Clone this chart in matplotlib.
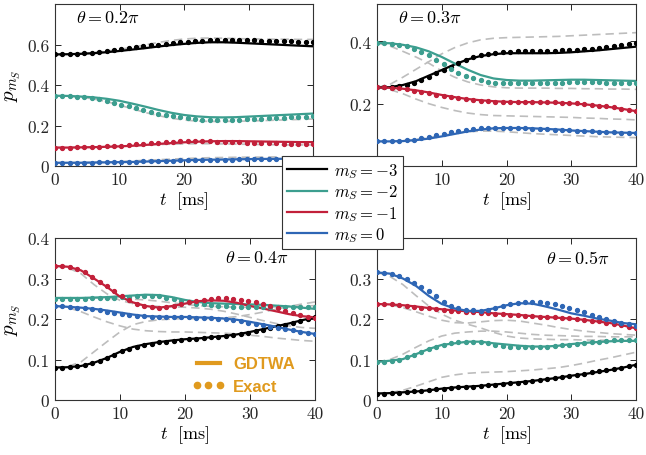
import numpy as np
import matplotlib
matplotlib.use("Agg")
import matplotlib.pyplot as plt
from matplotlib.lines import Line2D
from matplotlib.ticker import FuncFormatter

plt.rcParams['font.family'] = 'serif'
plt.rcParams['font.serif'] = ['cmr10', 'DejaVu Serif']
plt.rcParams['mathtext.fontset'] = 'cm'
plt.rcParams['axes.formatter.use_mathtext'] = True
plt.rcParams['axes.unicode_minus'] = False

# ---------------- data ----------------
t_line = np.arange(0, 41, 2)          # GDTWA and dashed curves
t_exact = np.linspace(0, 40, 36)      # exact (dots)
labels = [r'$m_S = -3$', r'$m_S = -2$', r'$m_S = -1$', r'$m_S = 0$']
colors = ['#000000', '#3C9E8F', '#C2203A', '#2E66B5']
thetas = [r'$\theta = 0.2\pi$', r'$\theta = 0.3\pi$', r'$\theta = 0.4\pi$', r'$\theta = 0.5\pi$']

# theta = 0.2 pi
gd_02 = [
    [0.551, 0.552, 0.554, 0.557, 0.562, 0.568, 0.575, 0.582, 0.590, 0.597, 0.603, 0.608, 0.611, 0.611, 0.609, 0.606, 0.603, 0.600, 0.597, 0.594, 0.591],
    [0.347, 0.346, 0.343, 0.339, 0.332, 0.322, 0.308, 0.293, 0.277, 0.263, 0.252, 0.245, 0.241, 0.240, 0.241, 0.244, 0.247, 0.250, 0.253, 0.256, 0.259],
    [0.091, 0.091, 0.092, 0.093, 0.095, 0.097, 0.100, 0.104, 0.109, 0.113, 0.117, 0.120, 0.122, 0.123, 0.123, 0.122, 0.121, 0.120, 0.119, 0.118, 0.118],
    [0.016, 0.016, 0.016, 0.017, 0.018, 0.019, 0.020, 0.022, 0.024, 0.026, 0.028, 0.030, 0.031, 0.032, 0.033, 0.034, 0.035, 0.035, 0.036, 0.037, 0.037],
]
ex_02 = [
    [0.551, 0.551, 0.552, 0.554, 0.556, 0.560, 0.565, 0.568, 0.573, 0.577, 0.582, 0.587, 0.591, 0.596, 0.600, 0.604, 0.608, 0.611, 0.614, 0.617, 0.619, 0.621, 0.622, 0.622, 0.622, 0.622, 0.621, 0.620, 0.619, 0.618, 0.617, 0.616, 0.615, 0.614, 0.613, 0.612],
    [0.347, 0.347, 0.345, 0.343, 0.340, 0.335, 0.329, 0.321, 0.312, 0.303, 0.294, 0.285, 0.276, 0.267, 0.259, 0.253, 0.248, 0.242, 0.236, 0.232, 0.229, 0.227, 0.227, 0.227, 0.228, 0.229, 0.230, 0.232, 0.233, 0.235, 0.236, 0.238, 0.240, 0.241, 0.243, 0.245],
    [0.091, 0.091, 0.091, 0.092, 0.093, 0.094, 0.095, 0.097, 0.099, 0.101, 0.104, 0.107, 0.110, 0.113, 0.116, 0.118, 0.120, 0.121, 0.122, 0.122, 0.122, 0.121, 0.120, 0.119, 0.118, 0.117, 0.116, 0.115, 0.114, 0.113, 0.112, 0.111, 0.110, 0.109, 0.108, 0.107],
    [0.016, 0.016, 0.016, 0.016, 0.017, 0.017, 0.018, 0.018, 0.019, 0.020, 0.021, 0.022, 0.023, 0.024, 0.025, 0.026, 0.027, 0.028, 0.029, 0.030, 0.030, 0.031, 0.031, 0.032, 0.032, 0.033, 0.033, 0.033, 0.034, 0.034, 0.034, 0.035, 0.035, 0.035, 0.036, 0.036],
]
dash_02 = [
    [0.551, 0.552, 0.555, 0.560, 0.567, 0.576, 0.586, 0.598, 0.610, 0.620, 0.627, 0.631, 0.632, 0.631, 0.629, 0.628, 0.627, 0.626, 0.626, 0.625, 0.625],
    [0.347, 0.345, 0.340, 0.331, 0.318, 0.301, 0.282, 0.264, 0.249, 0.236, 0.227, 0.222, 0.220, 0.220, 0.221, 0.222, 0.224, 0.226, 0.228, 0.230, 0.232],
    [0.091, 0.091, 0.092, 0.093, 0.095, 0.097, 0.100, 0.103, 0.106, 0.108, 0.109, 0.110, 0.110, 0.109, 0.108, 0.107, 0.106, 0.105, 0.104, 0.104, 0.104],
    [0.016, 0.016, 0.017, 0.018, 0.020, 0.022, 0.025, 0.028, 0.031, 0.034, 0.037, 0.039, 0.041, 0.042, 0.043, 0.044, 0.044, 0.045, 0.045, 0.045, 0.045],
]

# theta = 0.3 pi
gd_03 = [
    [0.252, 0.253, 0.260, 0.272, 0.290, 0.308, 0.326, 0.342, 0.353, 0.359, 0.362, 0.362, 0.362, 0.362, 0.363, 0.365, 0.368, 0.371, 0.375, 0.379, 0.383],
    [0.395, 0.394, 0.389, 0.381, 0.368, 0.350, 0.329, 0.309, 0.292, 0.281, 0.276, 0.274, 0.274, 0.275, 0.276, 0.277, 0.277, 0.276, 0.275, 0.274, 0.273],
    [0.252, 0.251, 0.248, 0.243, 0.236, 0.228, 0.221, 0.215, 0.211, 0.208, 0.206, 0.205, 0.205, 0.204, 0.203, 0.201, 0.198, 0.194, 0.189, 0.183, 0.176],
    [0.079, 0.079, 0.080, 0.083, 0.088, 0.095, 0.103, 0.111, 0.117, 0.121, 0.122, 0.122, 0.121, 0.119, 0.117, 0.114, 0.112, 0.110, 0.108, 0.107, 0.106],
]
ex_03 = [
    [0.252, 0.252, 0.254, 0.257, 0.261, 0.267, 0.275, 0.285, 0.297, 0.308, 0.319, 0.330, 0.340, 0.349, 0.356, 0.361, 0.364, 0.366, 0.367, 0.368, 0.368, 0.369, 0.369, 0.370, 0.370, 0.371, 0.372, 0.373, 0.375, 0.377, 0.380, 0.383, 0.386, 0.389, 0.392, 0.395],
    [0.395, 0.395, 0.393, 0.390, 0.385, 0.377, 0.367, 0.355, 0.340, 0.326, 0.312, 0.299, 0.289, 0.281, 0.275, 0.271, 0.268, 0.267, 0.266, 0.266, 0.266, 0.266, 0.267, 0.267, 0.268, 0.268, 0.269, 0.269, 0.269, 0.269, 0.269, 0.268, 0.268, 0.268, 0.268, 0.267],
    [0.252, 0.252, 0.251, 0.249, 0.246, 0.242, 0.238, 0.233, 0.229, 0.225, 0.221, 0.218, 0.215, 0.212, 0.210, 0.209, 0.207, 0.206, 0.206, 0.205, 0.205, 0.205, 0.205, 0.204, 0.204, 0.203, 0.202, 0.201, 0.199, 0.197, 0.194, 0.191, 0.188, 0.184, 0.180, 0.176],
    [0.079, 0.079, 0.079, 0.080, 0.082, 0.085, 0.089, 0.094, 0.099, 0.104, 0.109, 0.113, 0.117, 0.120, 0.122, 0.123, 0.123, 0.123, 0.122, 0.122, 0.121, 0.120, 0.119, 0.118, 0.117, 0.116, 0.114, 0.113, 0.112, 0.111, 0.110, 0.109, 0.108, 0.107, 0.107, 0.106],
]
dash_03 = [
    [0.252, 0.262, 0.285, 0.310, 0.335, 0.360, 0.380, 0.395, 0.405, 0.410, 0.412, 0.413, 0.414, 0.415, 0.416, 0.418, 0.420, 0.422, 0.424, 0.426, 0.428],
    [0.395, 0.385, 0.368, 0.350, 0.330, 0.305, 0.285, 0.270, 0.260, 0.254, 0.251, 0.250, 0.250, 0.250, 0.249, 0.249, 0.248, 0.248, 0.247, 0.247, 0.246],
    [0.252, 0.245, 0.232, 0.215, 0.200, 0.188, 0.178, 0.170, 0.165, 0.162, 0.161, 0.160, 0.159, 0.158, 0.157, 0.156, 0.154, 0.153, 0.151, 0.150, 0.148],
    [0.079, 0.079, 0.081, 0.085, 0.091, 0.098, 0.105, 0.110, 0.112, 0.112, 0.110, 0.107, 0.104, 0.102, 0.100, 0.098, 0.096, 0.094, 0.093, 0.092, 0.091],
]

# theta = 0.4 pi
gd_04 = [
    [0.080, 0.081, 0.084, 0.092, 0.104, 0.119, 0.131, 0.138, 0.143, 0.147, 0.150, 0.152, 0.155, 0.158, 0.162, 0.168, 0.175, 0.182, 0.189, 0.197, 0.204],
    [0.252, 0.252, 0.252, 0.253, 0.254, 0.256, 0.258, 0.260, 0.259, 0.254, 0.247, 0.242, 0.239, 0.238, 0.237, 0.236, 0.235, 0.233, 0.231, 0.228, 0.225],
    [0.331, 0.329, 0.320, 0.300, 0.279, 0.255, 0.241, 0.232, 0.228, 0.232, 0.238, 0.244, 0.246, 0.245, 0.240, 0.232, 0.226, 0.219, 0.212, 0.207, 0.204],
    [0.232, 0.230, 0.228, 0.225, 0.221, 0.216, 0.211, 0.207, 0.206, 0.205, 0.205, 0.204, 0.203, 0.201, 0.198, 0.193, 0.187, 0.181, 0.174, 0.168, 0.163],
]
ex_04 = [
    [0.080, 0.080, 0.081, 0.083, 0.086, 0.091, 0.097, 0.104, 0.112, 0.120, 0.127, 0.132, 0.136, 0.139, 0.142, 0.144, 0.146, 0.148, 0.150, 0.151, 0.153, 0.155, 0.156, 0.158, 0.160, 0.163, 0.166, 0.170, 0.174, 0.178, 0.182, 0.186, 0.190, 0.195, 0.199, 0.204],
    [0.250, 0.250, 0.250, 0.250, 0.250, 0.251, 0.251, 0.252, 0.253, 0.254, 0.255, 0.256, 0.257, 0.257, 0.256, 0.253, 0.249, 0.245, 0.241, 0.238, 0.236, 0.234, 0.232, 0.231, 0.230, 0.230, 0.230, 0.230, 0.230, 0.230, 0.230, 0.230, 0.230, 0.230, 0.229, 0.229],
    [0.331, 0.330, 0.328, 0.323, 0.315, 0.304, 0.292, 0.281, 0.270, 0.258, 0.247, 0.238, 0.232, 0.229, 0.228, 0.229, 0.233, 0.237, 0.241, 0.244, 0.247, 0.249, 0.251, 0.251, 0.250, 0.248, 0.245, 0.241, 0.236, 0.231, 0.226, 0.220, 0.215, 0.210, 0.206, 0.203],
    [0.232, 0.231, 0.230, 0.228, 0.226, 0.224, 0.221, 0.218, 0.215, 0.212, 0.210, 0.208, 0.207, 0.206, 0.205, 0.205, 0.205, 0.204, 0.204, 0.203, 0.203, 0.202, 0.201, 0.199, 0.197, 0.194, 0.191, 0.188, 0.185, 0.181, 0.178, 0.175, 0.172, 0.169, 0.166, 0.163],
]
dash_04 = [
    [0.080, 0.083, 0.094, 0.119, 0.144, 0.168, 0.186, 0.194, 0.198, 0.200, 0.201, 0.201, 0.201, 0.203, 0.206, 0.211, 0.217, 0.224, 0.231, 0.237, 0.242],
    [0.252, 0.252, 0.252, 0.252, 0.251, 0.250, 0.249, 0.247, 0.244, 0.240, 0.236, 0.233, 0.231, 0.230, 0.229, 0.229, 0.229, 0.230, 0.231, 0.232, 0.233],
    [0.331, 0.326, 0.312, 0.285, 0.262, 0.246, 0.238, 0.233, 0.231, 0.230, 0.229, 0.227, 0.224, 0.219, 0.212, 0.204, 0.196, 0.189, 0.183, 0.179, 0.177],
    [0.232, 0.228, 0.218, 0.205, 0.193, 0.183, 0.175, 0.171, 0.169, 0.168, 0.168, 0.167, 0.166, 0.165, 0.163, 0.160, 0.157, 0.153, 0.150, 0.147, 0.145],
]

# theta = 0.5 pi
gd_05 = [
    [0.016, 0.017, 0.019, 0.021, 0.024, 0.028, 0.031, 0.033, 0.035, 0.038, 0.041, 0.044, 0.047, 0.051, 0.055, 0.060, 0.064, 0.069, 0.074, 0.080, 0.087],
    [0.094, 0.097, 0.101, 0.113, 0.126, 0.136, 0.140, 0.144, 0.144, 0.140, 0.137, 0.134, 0.132, 0.132, 0.134, 0.138, 0.141, 0.143, 0.145, 0.146, 0.146],
    [0.237, 0.236, 0.234, 0.231, 0.227, 0.224, 0.221, 0.219, 0.217, 0.214, 0.212, 0.210, 0.207, 0.205, 0.203, 0.201, 0.198, 0.194, 0.190, 0.184, 0.177],
    [0.315, 0.312, 0.300, 0.282, 0.257, 0.237, 0.226, 0.220, 0.220, 0.226, 0.234, 0.239, 0.238, 0.231, 0.223, 0.214, 0.208, 0.201, 0.196, 0.190, 0.187],
]
ex_05 = [
    [0.016, 0.016, 0.017, 0.018, 0.019, 0.021, 0.023, 0.024, 0.026, 0.028, 0.030, 0.031, 0.032, 0.033, 0.035, 0.036, 0.038, 0.040, 0.041, 0.043, 0.045, 0.047, 0.049, 0.051, 0.054, 0.056, 0.059, 0.062, 0.065, 0.068, 0.071, 0.074, 0.077, 0.080, 0.084, 0.087],
    [0.094, 0.095, 0.097, 0.100, 0.105, 0.112, 0.119, 0.126, 0.132, 0.137, 0.140, 0.142, 0.143, 0.143, 0.142, 0.140, 0.137, 0.134, 0.132, 0.130, 0.130, 0.130, 0.130, 0.131, 0.133, 0.135, 0.137, 0.139, 0.141, 0.143, 0.144, 0.146, 0.147, 0.148, 0.149, 0.149],
    [0.237, 0.237, 0.236, 0.234, 0.232, 0.230, 0.228, 0.226, 0.224, 0.222, 0.220, 0.219, 0.218, 0.217, 0.216, 0.214, 0.213, 0.212, 0.211, 0.210, 0.208, 0.207, 0.206, 0.205, 0.204, 0.203, 0.202, 0.200, 0.198, 0.196, 0.194, 0.191, 0.188, 0.185, 0.181, 0.177],
    [0.315, 0.314, 0.311, 0.306, 0.298, 0.288, 0.279, 0.269, 0.256, 0.242, 0.232, 0.226, 0.223, 0.221, 0.220, 0.222, 0.226, 0.231, 0.236, 0.239, 0.241, 0.242, 0.242, 0.240, 0.236, 0.232, 0.227, 0.222, 0.217, 0.211, 0.206, 0.201, 0.196, 0.191, 0.187, 0.183],
]
dash_05 = [
    [0.016, 0.018, 0.024, 0.034, 0.045, 0.056, 0.062, 0.066, 0.068, 0.069, 0.070, 0.072, 0.074, 0.077, 0.080, 0.085, 0.091, 0.098, 0.104, 0.111, 0.118],
    [0.094, 0.100, 0.113, 0.130, 0.146, 0.158, 0.165, 0.168, 0.170, 0.170, 0.168, 0.165, 0.162, 0.160, 0.159, 0.158, 0.157, 0.157, 0.156, 0.156, 0.156],
    [0.237, 0.235, 0.228, 0.218, 0.207, 0.197, 0.191, 0.190, 0.193, 0.196, 0.197, 0.195, 0.190, 0.185, 0.179, 0.174, 0.170, 0.167, 0.164, 0.162, 0.160],
    [0.315, 0.305, 0.285, 0.258, 0.232, 0.212, 0.197, 0.187, 0.178, 0.167, 0.158, 0.153, 0.151, 0.150, 0.149, 0.149, 0.148, 0.148, 0.147, 0.147, 0.146],
]

x_ticks = [0, 10, 20, 30, 40]
y_ticks_list = [[0, 0.2, 0.4, 0.6], [0, 0.2, 0.4], [0, 0.1, 0.2, 0.3, 0.4], [0, 0.1, 0.2, 0.3, 0.4]]
y_lims = [(0, 0.8), (0, 0.52), (0, 0.4), (0, 0.4)]
# tick labels that sit underneath the central legend (not visible in the figure)
hidden_x = [[40], [0], [], []]
hidden_y = [[], [0], [], [0.4]]

# ---------------- figure ----------------
W, H = 646, 456
fig = plt.figure(figsize=(W / 100, H / 100), dpi=100)

def rect(x0, x1, y0, y1):
    return [x0 / W, 1 - y1 / H, (x1 - x0) / W, (y1 - y0) / H]

rects = [rect(55, 313, 5, 167), rect(377, 636, 5, 167),
         rect(55, 315, 239, 401), rect(377, 636, 239, 401)]
panels = [(gd_02, ex_02, dash_02), (gd_03, ex_03, dash_03),
          (gd_04, ex_04, dash_04), (gd_05, ex_05, dash_05)]
theta_pos = [(0.08, 0.92, 'left'), (0.08, 0.92, 'left'),
             (0.9, 0.88, 'right'), (0.9, 0.88, 'right')]

def make_fmt(hidden):
    def f(v, _):
        if any(abs(v - h) < 1e-9 for h in hidden):
            return ''
        return '0' if abs(v) < 1e-9 else f'{v:g}'
    return FuncFormatter(f)

tick_fs = 12.5

axes = []
for i, (r, (gd, ex, da)) in enumerate(zip(rects, panels)):
    ax = fig.add_axes(r)
    axes.append(ax)
    for k in range(4):
        ax.plot(t_line, da[k], color='#BDBDBD', lw=1.2, dashes=(5, 3), zorder=1)
    for k in range(4):
        ax.plot(t_line, gd[k], color=colors[k], lw=1.6, zorder=2, label=labels[k])
    for k in range(4):
        ax.plot(t_exact, ex[k], linestyle='none', marker='o', ms=2.8,
                color=colors[k], zorder=3)
    ax.set_xlim(0, 40)
    ax.set_ylim(*y_lims[i])
    ax.set_xticks(x_ticks)
    ax.set_yticks(y_ticks_list[i])
    ax.xaxis.set_major_formatter(make_fmt(hidden_x[i]))
    ax.yaxis.set_major_formatter(make_fmt(hidden_y[i]))
    ax.tick_params(direction='in', top=True, right=True, length=4, width=0.7,
                   labelsize=tick_fs, colors='#262626', pad=4)
    for s in ax.spines.values():
        s.set_linewidth(0.8)
        s.set_color('#333333')
    ax.set_xlabel(r'$t\ \ [\mathrm{ms}]$', fontsize=13, labelpad=2)
    if i in (0, 2):
        ax.set_ylabel(r'$p_{m_S}$', fontsize=15, labelpad=3)
    tx, ty, ha = theta_pos[i]
    ax.text(tx, ty, thetas[i], transform=ax.transAxes, ha=ha, va='center',
            fontsize=13)

# method legend inside theta=0.4pi panel
orange = '#E09A1E'
h_gd = Line2D([], [], color=orange, lw=3)
h_ex = Line2D([], [], color=orange, linestyle='none', marker='o', ms=4.5)
leg2 = axes[2].legend([h_gd, h_ex], ['GDTWA', 'Exact'], loc='upper left',
                      bbox_to_anchor=(0.5, 0.31), frameon=False, numpoints=3,
                      handlelength=2.0, handletextpad=0.5, labelspacing=0.45,
                      prop={'family': 'Liberation Sans', 'weight': 'bold', 'size': 12},
                      labelcolor=orange, borderaxespad=0)

# state legend in the middle of the figure
handles = [Line2D([], [], color=c, lw=1.6) for c in colors]
leg = fig.legend(handles, labels, loc='upper left',
                 bbox_to_anchor=(282 / W, 1 - 157 / H), fontsize=12,
                 frameon=True, fancybox=False, edgecolor='#333333',
                 framealpha=1, handlelength=2.4, handletextpad=0.4,
                 labelspacing=0.15, borderpad=0.3, borderaxespad=0)
leg.get_frame().set_linewidth(0.8)

fig.savefig('out.png', dpi=100)
